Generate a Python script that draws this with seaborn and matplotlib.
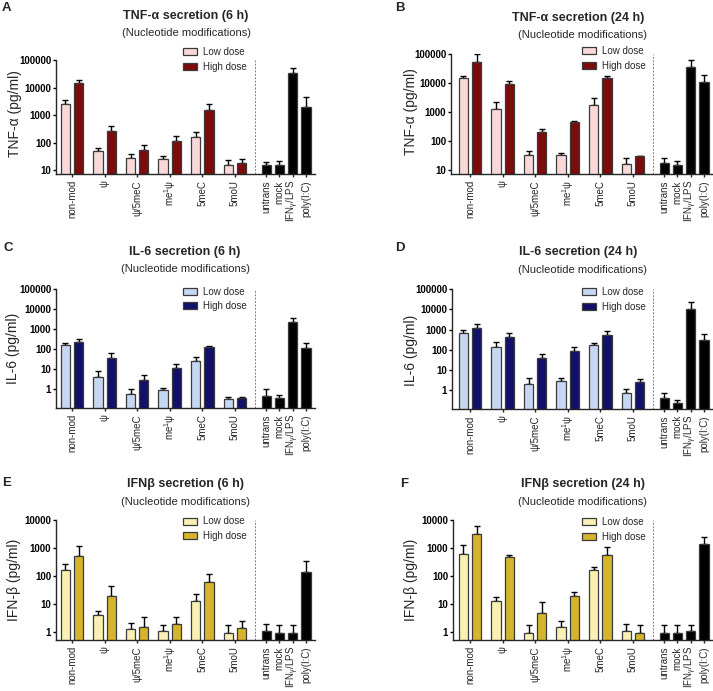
import numpy as np
import pandas as pd
import matplotlib
matplotlib.use("Agg")
import matplotlib.pyplot as plt
from matplotlib.patches import Patch
from matplotlib.ticker import LogLocator, NullFormatter
import seaborn as sns

# ---------------- data ----------------
mods = ["non-mod", "ψ", "ψ/5meC", "me$^1$ψ", "5meC", "5moU"]
ctrls = ["untrans", "mock", "IFN$_{\\mathrm{γ}}$/LPS", "poly(I:C)"]
legend_labels = ["Low dose", "High dose"]

# TNF-alpha 6 h
tnf6_low = [2450, 49, 26.5, 26, 154, 15]
tnf6_low_top = [3500, 62, 40, 33, 240, 24]
tnf6_high = [14000, 270, 52, 113, 1550, 18]
tnf6_high_top = [18500, 410, 79, 172, 2450, 25]
tnf6_ctrl = [15, 15, 34700, 2000]
tnf6_ctrl_top = [20, 21, 52000, 4500]

# TNF-alpha 24 h
tnf24_low = [15200, 1260, 32, 32, 1740, 16]
tnf24_low_top = [17900, 2150, 44, 38.5, 2960, 27]
tnf24_high = [51600, 8950, 200, 440, 15200, 30.4]
tnf24_high_top = [97000, 11400, 252, 480, 17900, 31]
tnf24_ctrl = [17.4, 14.9, 36500, 10500]
tnf24_ctrl_top = [25, 20, 60000, 19400]

# IL-6 6 h
il6_6_low = [168, 4.4, 0.57, 0.96, 25, 0.32]
il6_6_low_top = [212, 8.1, 1.08, 1.25, 41, 0.40]
il6_6_high = [238, 37, 3.0, 11.8, 125, 0.39]
il6_6_high_top = [335, 63, 5.1, 19.4, 145, 0.40]
il6_6_ctrl = [0.49, 0.39, 2400, 120]
il6_6_ctrl_top = [1.0, 0.54, 3700, 212]

# IL-6 24 h
il6_24_low = [660, 134, 2.06, 2.9, 168, 0.71]
il6_24_low_top = [970, 237, 3.9, 4.1, 228, 1.12]
il6_24_high = [1130, 437, 40, 92, 510, 2.6]
il6_24_high_top = [1780, 640, 63, 145, 800, 3.8]
il6_24_ctrl = [0.43, 0.245, 10200, 310]
il6_24_ctrl_top = [0.71, 0.33, 21900, 570]

# IFN-beta 6 h
ifn6_low = [164, 4.2, 1.28, 1.15, 13.2, 0.97]
ifn6_low_top = [268, 5.9, 2.1, 1.88, 23.4, 1.83]
ifn6_high = [505, 20, 1.6, 1.98, 63, 1.47]
ifn6_high_top = [1150, 43, 3.6, 3.5, 118, 2.6]
ifn6_ctrl = [1.15, 0.97, 0.97, 139]
ifn6_ctrl_top = [1.9, 1.88, 1.88, 333]

# IFN-beta 24 h
ifn24_low = [595, 13.5, 0.97, 1.6, 159, 1.15]
ifn24_low_top = [1250, 18.8, 1.88, 2.6, 220, 1.98]
ifn24_high = [3240, 465, 4.9, 19.4, 580, 0.97]
ifn24_high_top = [6300, 580, 12.4, 28, 1060, 1.88]
ifn24_ctrl = [0.97, 0.97, 1.08, 1350]
ifn24_ctrl_top = [1.88, 1.88, 1.88, 2470]

# ---------------- style ----------------
sns.set_style("ticks")
plt.rcParams["font.family"] = ["Liberation Sans", "DejaVu Sans"]
plt.rcParams["mathtext.fontset"] = "custom"
plt.rcParams["mathtext.rm"] = "Liberation Sans"
plt.rcParams["mathtext.it"] = "Liberation Sans:italic"
plt.rcParams["mathtext.bf"] = "Liberation Sans:bold"
plt.rcParams["axes.linewidth"] = 1.0

W, H = 713, 691
fig = plt.figure(figsize=(W / 100, H / 100), dpi=100)

EDGE = "#3a3a3a"
COL = {
    "tnf": ("#f8d8d8", "#7a0c0c"),
    "il6": ("#c6d7f2", "#11116a"),
    "ifn": ("#faf0b4", "#d6b52e"),
}

GROUP_STEP = 2.45
PAIR_OFF = 0.5
CTRL_START = 14.6
SEP_X = 13.76
BAR_W = 0.7

grp = np.arange(len(mods)) * GROUP_STEP
ctrl_x = CTRL_START + np.arange(len(ctrls)) * 1.0


def add_axes_px(l, t, r, b):
    return fig.add_axes([l / W, 1 - b / H, (r - l) / W, (b - t) / H])


def ftext(x, y, s, **kw):
    fig.text(x / W, 1 - y / H, s, **kw)


def draw_bars(ax, xs, vals, tops, color):
    xs = np.asarray(xs, float)
    vals = np.asarray(vals, float)
    tops = np.asarray(tops, float)
    step = np.min(np.diff(xs))
    sns.barplot(x=xs, y=vals, native_scale=True, orient="x", ax=ax,
                color=color, saturation=1, width=BAR_W / step,
                edgecolor=EDGE, linewidth=0.9, errorbar=None)
    ax.errorbar(xs, vals, yerr=[np.zeros_like(vals), tops - vals], fmt="none",
                ecolor="black", elinewidth=1.0, capsize=2.2, capthick=1.0,
                zorder=0.5)


panels = [
    dict(letter="A", box=(56, 60, 315, 174), ylim=(7.2, 1e5), kind="tnf",
         d=(tnf6_low, tnf6_low_top, tnf6_high, tnf6_high_top, tnf6_ctrl, tnf6_ctrl_top),
         title="TNF-α secretion (6 h)", ylabel="TNF-α (pg/ml)", gc=72,
         tpos=(186, 16), spos=(186, 33.5), lpos=(2, 8), ylpos=(15, 114), legpos=(183, 52.5)),
    dict(letter="B", box=(451, 54, 712, 174), ylim=(7.3, 1e5), kind="tnf",
         d=(tnf24_low, tnf24_low_top, tnf24_high, tnf24_high_top, tnf24_ctrl, tnf24_ctrl_top),
         title="TNF-α secretion (24 h)", ylabel="TNF-α (pg/ml)", gc=470,
         tpos=(578, 17.5), spos=(583, 35), lpos=(395, 8), ylpos=(411, 112), legpos=(582, 51.5)),
    dict(letter="C", box=(56, 289, 315, 408), ylim=(0.12, 1e5), kind="il6",
         d=(il6_6_low, il6_6_low_top, il6_6_high, il6_6_high_top, il6_6_ctrl, il6_6_ctrl_top),
         title="IL-6 secretion (6 h)", ylabel="IL-6 (pg/ml)", gc=72,
         tpos=(185, 251.5), spos=(185, 269.5), lpos=(3, 248), ylpos=(13, 348), legpos=(183, 292)),
    dict(letter="D", box=(452, 289, 712, 409), ylim=(0.12, 1e5), kind="il6",
         d=(il6_24_low, il6_24_low_top, il6_24_high, il6_24_high_top, il6_24_ctrl, il6_24_ctrl_top),
         title="IL-6 secretion (24 h)", ylabel="IL-6 (pg/ml)", gc=470,
         tpos=(578, 252), spos=(583, 270), lpos=(395, 248), ylpos=(411, 350), legpos=(582, 292.5)),
    dict(letter="E", box=(56, 520, 315, 640), ylim=(0.53, 1e4), kind="ifn",
         d=(ifn6_low, ifn6_low_top, ifn6_high, ifn6_high_top, ifn6_ctrl, ifn6_ctrl_top),
         title="IFNβ secretion (6 h)", ylabel="IFN-β (pg/ml)", gc=72,
         tpos=(185, 484), spos=(185, 502), lpos=(2, 483), ylpos=(14, 580), legpos=(183, 522)),
    dict(letter="F", box=(453, 520, 712, 640), ylim=(0.53, 1e4), kind="ifn",
         d=(ifn24_low, ifn24_low_top, ifn24_high, ifn24_high_top, ifn24_ctrl, ifn24_ctrl_top),
         title="IFNβ secretion (24 h)", ylabel="IFN-β (pg/ml)", gc=470,
         tpos=(583, 484), spos=(583, 502), lpos=(400, 484), ylpos=(411, 580), legpos=(582, 522.5)),
]

UNIT_PX = 13.3

for p in panels:
    l, t, r, b = p["box"]
    ax = add_axes_px(l, t, r, b)
    low, low_top, high, high_top, ctrl, ctrl_top = p["d"]
    c_low, c_high = COL[p["kind"]]
    draw_bars(ax, grp - PAIR_OFF, low, low_top, c_low)
    draw_bars(ax, grp + PAIR_OFF, high, high_top, c_high)
    draw_bars(ax, ctrl_x, ctrl, ctrl_top, "black")

    ax.set_yscale("log")
    ax.set_ylim(*p["ylim"])
    ax.set_xlim((l - p["gc"]) / UNIT_PX, (r - p["gc"]) / UNIT_PX)
    ax.axvline(SEP_X, color="#808080", lw=0.7, ls=(0, (2, 1.5)), zorder=0.3)

    lo, hi = p["ylim"]
    majors = [10.0 ** k for k in range(-1, 6) if lo <= 10.0 ** k <= hi * 1.0001]
    ax.set_yticks(majors, labels=[f"{v:.0f}" for v in majors],
                  fontsize=7, fontweight="bold")
    ax.yaxis.set_minor_locator(LogLocator(base=10, subs=np.arange(2, 10)))
    ax.yaxis.set_minor_formatter(NullFormatter())
    ax.tick_params(axis="y", which="major", length=2.5, width=1.0, pad=1, colors="black")
    ax.tick_params(axis="y", which="minor", length=1.5, width=0.7)

    ax.set_xticks(list(grp) + list(ctrl_x), labels=mods + ctrls,
                  rotation=90, fontsize=7)
    ax.tick_params(axis="x", length=2.5, width=1.0, pad=2)
    for s in ("top", "right"):
        ax.spines[s].set_visible(False)
    ax.set_ylabel("")
    ax.set_xlabel("")

    handles = [Patch(facecolor=c_low, edgecolor=EDGE, linewidth=0.9),
               Patch(facecolor=c_high, edgecolor=EDGE, linewidth=0.9)]
    lx, ly = p["legpos"]
    ax.legend(handles=handles, labels=legend_labels, loc="upper left",
              bbox_to_anchor=(lx / W, 1 - (ly - 5.5) / H),
              bbox_transform=fig.transFigure, frameon=False, fontsize=7,
              handlelength=1.45, handleheight=0.72, handletextpad=0.6,
              labelspacing=0.5, borderpad=0, borderaxespad=0)

    ftext(*p["tpos"], p["title"], ha="center", va="center", fontsize=9, fontweight="bold")
    ftext(*p["spos"], "(Nucleotide modifications)", ha="center", va="center", fontsize=8)
    ftext(*p["lpos"], p["letter"], ha="left", va="center", fontsize=9.5, fontweight="bold")
    ftext(*p["ylpos"], p["ylabel"], ha="center", va="center", rotation=90, fontsize=10)

fig.savefig("out.png", dpi=100)
